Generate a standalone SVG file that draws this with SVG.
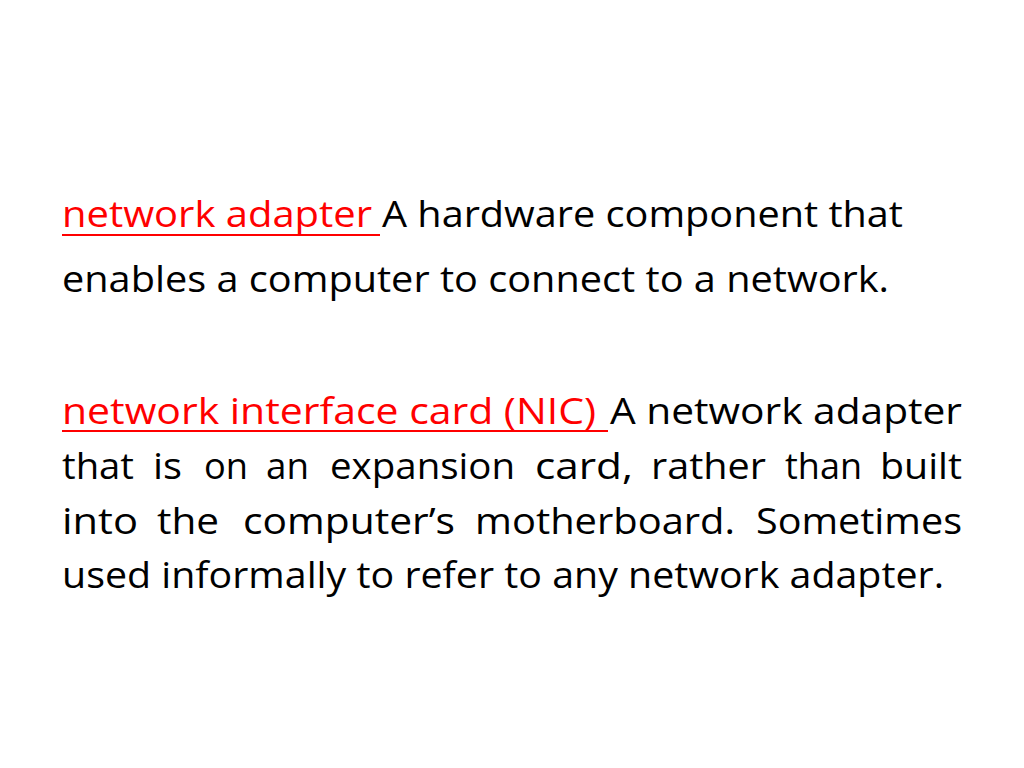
<svg xmlns="http://www.w3.org/2000/svg" width="1024" height="768" viewBox="0 0 1024 768">
<style>
text{font-family:"Open Sans","Liberation Sans",sans-serif;font-size:36px;fill:#000}
.r{fill:#ff0000}
line{stroke:#ff0000;stroke-width:2}
</style>
<rect width="1024" height="768" fill="#fff"/>
<g id="term1">
<text class="r" x="62" y="227" textLength="310" lengthAdjust="spacingAndGlyphs">network adapter</text>
<line x1="62" y1="235" x2="380" y2="235"/>
<text x="382" y="227" textLength="521" lengthAdjust="spacingAndGlyphs">A hardware component that</text>
<text x="62" y="292" textLength="827" lengthAdjust="spacingAndGlyphs">enables a computer to connect to a network.</text>
</g>
<g id="term2">
<text class="r" x="62" y="424" textLength="534" lengthAdjust="spacingAndGlyphs">network interface card (NIC)</text>
<line x1="62" y1="431" x2="608" y2="431"/>
<text x="610" y="424" textLength="352" lengthAdjust="spacingAndGlyphs">A network adapter</text>
<text y="479"><tspan x="62" textLength="72" lengthAdjust="spacingAndGlyphs">that</tspan> <tspan x="153" textLength="29" lengthAdjust="spacingAndGlyphs">is</tspan> <tspan x="204" textLength="44" lengthAdjust="spacingAndGlyphs">on</tspan> <tspan x="266" textLength="43" lengthAdjust="spacingAndGlyphs">an</tspan> <tspan x="330" textLength="185" lengthAdjust="spacingAndGlyphs">expansion</tspan> <tspan x="535" textLength="98" lengthAdjust="spacingAndGlyphs">card,</tspan> <tspan x="651" textLength="115" lengthAdjust="spacingAndGlyphs">rather</tspan> <tspan x="785" textLength="77" lengthAdjust="spacingAndGlyphs">than</tspan> <tspan x="880" textLength="82" lengthAdjust="spacingAndGlyphs">built</tspan></text>
<text y="534"><tspan x="62" textLength="76" lengthAdjust="spacingAndGlyphs">into</tspan> <tspan x="157" textLength="62" lengthAdjust="spacingAndGlyphs">the</tspan> <tspan x="243" textLength="212" lengthAdjust="spacingAndGlyphs">computer’s</tspan> <tspan x="475" textLength="260" lengthAdjust="spacingAndGlyphs">motherboard.</tspan> <tspan x="756" textLength="206" lengthAdjust="spacingAndGlyphs">Sometimes</tspan></text>
<text x="62" y="588" textLength="882" lengthAdjust="spacingAndGlyphs">used informally to refer to any network adapter.</text>
</g>
</svg>
